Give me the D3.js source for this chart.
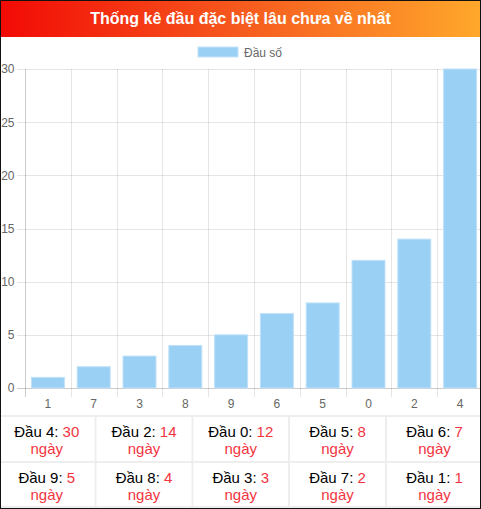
<!DOCTYPE html>
<html>
<head>
<meta charset="utf-8">
<script src="https://cdn.jsdelivr.net/npm/d3@7/dist/d3.min.js"></script>
<style>
html,body{margin:0;padding:0;background:#fff;}
svg{display:block;font-family:"Liberation Sans",Arial,Helvetica,sans-serif;}
</style>
</head>
<body>
<svg id="c" width="481" height="509"></svg>
<script>
const title = "Thống kê đầu đặc biệt lâu chưa về nhất";
const legendLabel = "Đầu số";
const categories = ["1","7","3","8","9","6","5","0","2","4"];
const values = [1,2,3,4,5,7,8,12,14,30];
const yTicks = [0,5,10,15,20,25,30];
const tableHeads = [4,2,0,5,6,9,8,3,7,1];
const tableDays = [30,14,12,8,7,5,4,3,2,1];

const W = 481, H = 509;
const svg = d3.select("#c");

// header gradient
const defs = svg.append("defs");
const g = defs.append("linearGradient").attr("id","hg").attr("x1","0").attr("x2","1").attr("y1","0").attr("y2","0");
g.append("stop").attr("offset","0%").attr("stop-color","#f20a05");
g.append("stop").attr("offset","50%").attr("stop-color","#f65a1e");
g.append("stop").attr("offset","100%").attr("stop-color","#ffa82b");
svg.append("rect").attr("x",0).attr("y",0).attr("width",W).attr("height",37).attr("fill","url(#hg)");
svg.append("text").attr("x",240.5).attr("y",24).attr("text-anchor","middle")
  .attr("fill","#fff").attr("font-weight","bold").attr("font-size","16px").text(title);

// legend
svg.append("rect").attr("x",198).attr("y",47).attr("width",40).attr("height",10)
  .attr("fill","#9bd0f5").attr("stroke","#c4e3f9").attr("stroke-width",1);
svg.append("text").attr("x",244).attr("y",56.5).attr("fill","#666").attr("font-size","12px").text(legendLabel);

// scales
const x = d3.scaleBand().domain(categories).range([25,483]).paddingInner(0).paddingOuter(0);
const y = d3.scaleLinear().domain([0,30]).range([388,69]);

const grid = svg.append("g");
// horizontal grid + tick marks
yTicks.forEach(t=>{
  grid.append("line").attr("x1",17).attr("x2",483).attr("y1",Math.round(y(t))+0.5).attr("y2",Math.round(y(t))+0.5)
    .attr("stroke", t===0 ? "rgba(0,0,0,0.2)" : "rgba(0,0,0,0.1)").attr("stroke-width",1);
});
// vertical grid lines at category boundaries
const bounds = categories.map(c=>x(c)).concat([x.range()[1]]);
bounds.forEach((bx,i)=>{
  grid.append("line").attr("x1",Math.round(bx)+0.5).attr("x2",Math.round(bx)+0.5).attr("y1",69).attr("y2",397)
    .attr("stroke", i===0 ? "rgba(0,0,0,0.2)" : "rgba(0,0,0,0.1)").attr("stroke-width",1);
});

// y axis labels
const yAxis = d3.axisLeft(y).tickValues(yTicks).tickSize(0).tickPadding(0);
const ya = svg.append("g").attr("transform","translate(14.5,0)").call(yAxis);
ya.select(".domain").remove();
ya.selectAll("text").attr("fill","#666").attr("font-size","12px").attr("font-family","'Liberation Sans',Arial,sans-serif");

// x axis labels
const xAxis = d3.axisBottom(x).tickSize(0).tickPadding(0);
const xa = svg.append("g").attr("transform","translate(0,399)").call(xAxis);
xa.select(".domain").remove();
xa.selectAll("text").attr("fill","#666").attr("font-size","12px").attr("font-family","'Liberation Sans',Arial,sans-serif");

// bars
const bw = x.bandwidth()*0.72;
svg.append("g").selectAll("rect").data(values).join("rect")
  .attr("x",(d,i)=>x(categories[i]) + (x.bandwidth()-bw)/2)
  .attr("y",d=>y(d))
  .attr("width",bw)
  .attr("height",d=>y(0)-y(d))
  .attr("fill","#9bd0f5")
  .attr("stroke","#bfe0f8").attr("stroke-width",1);

// table
const colEdges = [-2, 95.5, 192.5, 289, 386, 483];
const rowEdges = [416, 462, 507];
const tg = svg.append("g");
tg.append("rect").attr("x",0).attr("y",416).attr("width",W).attr("height",91).attr("fill","#fff");
rowEdges.forEach(ry=>{
  tg.append("line").attr("x1",0).attr("x2",W).attr("y1",ry).attr("y2",ry).attr("stroke","#eee").attr("stroke-width",2);
});
colEdges.slice(1,5).forEach(cx=>{
  tg.append("line").attr("x1",cx).attr("x2",cx).attr("y1",416).attr("y2",507).attr("stroke","#eee").attr("stroke-width",2);
});
tableHeads.forEach((h,i)=>{
  const r = Math.floor(i/5), c = i%5;
  const cx = (colEdges[c]+colEdges[c+1])/2;
  const by = r===0 ? 437 : 483;
  const t = tg.append("text").attr("x",cx).attr("y",by).attr("text-anchor","middle").attr("font-size","15px");
  t.append("tspan").attr("fill","#000").text("Đầu " + h + ": ");
  t.append("tspan").attr("fill","#f2343f").text(tableDays[i]);
  tg.append("text").attr("x",cx).attr("y",by+17).attr("text-anchor","middle").attr("font-size","15px")
    .attr("fill","#f2343f").text("ngày");
});

// outer border
svg.append("rect").attr("x",0.5).attr("y",0.5).attr("width",W-1).attr("height",H-1)
  .attr("fill","none").attr("stroke","#111").attr("stroke-width",1);
</script>
</body>
</html>
